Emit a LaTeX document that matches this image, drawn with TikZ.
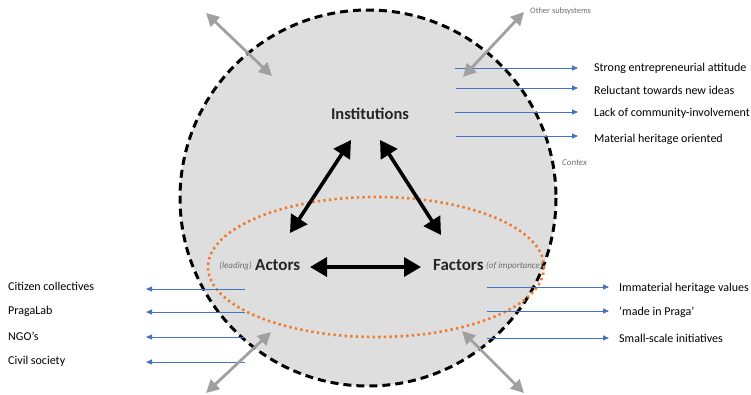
\documentclass[tikz,border=0pt]{standalone}
\usepackage{fontspec}
\setmainfont{Carlito}
\usetikzlibrary{arrows.meta}
\definecolor{circfill}{RGB}{222,222,222}
\definecolor{orangedot}{RGB}{237,125,49}
\definecolor{blueln}{RGB}{68,114,196}
\definecolor{grayarr}{RGB}{160,160,160}
\definecolor{smallgray}{RGB}{110,110,110}
\tikzset{
  blackarr/.style={line width=3.6pt, {Triangle[length=17pt,width=19pt]}-{Triangle[length=17pt,width=19pt]}},
  grayarrow/.style={draw=grayarr, line width=2.8pt, {Triangle[length=13pt,width=13pt]}-{Triangle[length=13pt,width=13pt]}},
  bluearr/.style={draw=blueln, line width=0.9pt, -{Triangle[length=6pt,width=5pt]}},
  label/.style={anchor=west, inner sep=0pt, font=\fontsize{12}{14}\selectfont},
  mainlbl/.style={inner sep=0pt, font=\fontsize{17}{19}\selectfont\bfseries, text=black!85},
  smalllbl/.style={inner sep=0pt, font=\fontsize{9}{10}\selectfont\itshape, text=smallgray}
}
\begin{document}
\begin{tikzpicture}[x=1pt,y=-1pt]
\useasboundingbox (0,0) rectangle (751,394);
% context circle
\fill[circfill] (368,198) circle (188);
\draw[line width=3pt, dash pattern=on 8pt off 5pt] (368,198) circle (188);
% orange ellipse
\draw[orangedot, line width=2.6pt, dash pattern=on 2.4pt off 3.2pt] (376,267) ellipse [x radius=168, y radius=70];
% main labels
\node[mainlbl, font=\fontsize{16.5}{19}\selectfont\bfseries] (inst) at (370,114) {Institutions};
\node[mainlbl, anchor=west] (actors) at (255,265) {Actors};
\node[mainlbl, anchor=west] (factors) at (433,265) {Factors};
\node[smalllbl, anchor=east] (leading) at (252,266) {(leading)};
\node[smalllbl, anchor=west] (importance) at (486,266) {(of importance)};
\node[smalllbl, anchor=west] (contex) at (562,163) {Contex};
\node[smalllbl, anchor=west, font=\fontsize{8.4}{10}\selectfont] (other) at (530,11) {Other subsystems};
% black arrows
\coordinate (ia1) at (351,140);
\coordinate (ia2) at (290,233);
\coordinate (if1) at (380,140);
\coordinate (if2) at (441,235);
\coordinate (af1) at (310,267);
\coordinate (af2) at (421,267);
\draw[blackarr] (ia1) -- (ia2);
\draw[blackarr] (if1) -- (if2);
\draw[blackarr] (af1) -- (af2);
% right top labels
\node[label] (t1) at (594,68) {Strong entrepreneurial attitude};
\node[label] (t2) at (594,90) {Reluctant towards new ideas};
\node[label] (t3) at (594,113) {Lack of community-involvement};
\node[label] (t4) at (594,139) {Material heritage oriented};
\coordinate (s1) at (455,68);
\coordinate (s2) at (456,88);
\coordinate (s3) at (455,112);
\coordinate (s4) at (456,136);
\coordinate (e1) at (578,68);
\coordinate (e2) at (578,88);
\coordinate (e3) at (578,112);
\coordinate (e4) at (578,136);
\draw[bluearr] (s1) -- (e1);
\draw[bluearr] (s2) -- (e2);
\draw[bluearr] (s3) -- (e3);
\draw[bluearr] (s4) -- (e4);
% left labels
\node[label] (l1) at (8,286) {Citizen collectives};
\node[label] (l2) at (8,311) {PragaLab};
\node[label] (l3) at (8,336) {NGO’s};
\node[label] (l4) at (8,361) {Civil society};
\coordinate (ls1) at (245,289);
\coordinate (ls2) at (245,312);
\coordinate (ls3) at (245,337);
\coordinate (ls4) at (245,362);
\coordinate (le1) at (146,289);
\coordinate (le2) at (146,312);
\coordinate (le3) at (146,337);
\coordinate (le4) at (146,362);
\draw[bluearr] (ls1) -- (le1);
\draw[bluearr] (ls2) -- (le2);
\draw[bluearr] (ls3) -- (le3);
\draw[bluearr] (ls4) -- (le4);
% right bottom labels
\node[label] (r1) at (619,288) {Immaterial heritage values};
\node[label] (r2) at (619,312) {‘made in Praga’};
\node[label] (r3) at (619,338) {Small-scale initiatives};
\coordinate (rs1) at (487,287);
\coordinate (rs2) at (487,311);
\coordinate (rs3) at (487,338);
\coordinate (re1) at (609,287);
\coordinate (re2) at (609,311);
\coordinate (re3) at (609,338);
\draw[bluearr] (rs1) -- (re1);
\draw[bluearr] (rs2) -- (re2);
\draw[bluearr] (rs3) -- (re3);
% gray arrows
\coordinate (g1a) at (206,13);
\coordinate (g1b) at (272,76);
\coordinate (g2a) at (463,77);
\coordinate (g2b) at (524,12);
\coordinate (g3a) at (271,332);
\coordinate (g3b) at (206,393);
\coordinate (g4a) at (462,331);
\coordinate (g4b) at (524,393);
\draw[grayarrow] (g1a) -- (g1b);
\draw[grayarrow] (g2a) -- (g2b);
\draw[grayarrow] (g3a) -- (g3b);
\draw[grayarrow] (g4a) -- (g4b);
\end{tikzpicture}
\end{document}
